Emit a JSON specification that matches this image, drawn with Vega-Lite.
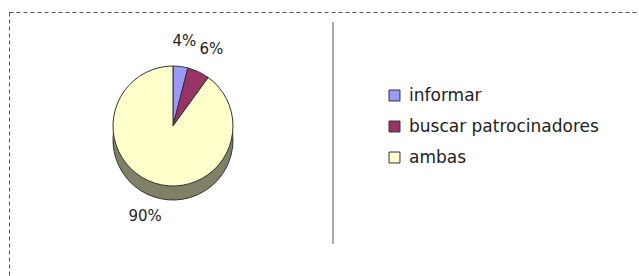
{
  "$schema": "https://vega.github.io/schema/vega-lite/v6.json",
  "autosize": {"type": "fit", "contains": "padding"},
  "width": 639,
  "height": 276,
  "padding": {"left": 9, "top": 12, "right": -2, "bottom": -2},
  "background": "white",
  "config": {
    "view": {"stroke": "#555555", "strokeWidth": 1, "strokeDash": [4, 3]},
    "font": "DejaVu Sans"
  },
  "data": {
    "values": [
      {"category": "informar", "value": 4, "order": 1, "label": "4%"},
      {"category": "buscar patrocinadores", "value": 6, "order": 2, "label": "6%"},
      {"category": "ambas", "value": 90, "order": 3, "label": "90%"}
    ]
  },
  "layer": [
    {
      "mark": {"type": "arc", "outerRadius": 60, "yOffset": 14, "fill": "#808066", "stroke": "#333333", "strokeWidth": 1},
      "encoding": {
        "theta": {"field": "value", "type": "quantitative", "stack": true},
        "order": {"field": "order"},
        "x": {"value": 164},
        "y": {"value": 114}
      }
    },
    {
      "mark": {"type": "arc", "outerRadius": 60, "stroke": "#333333", "strokeWidth": 1},
      "encoding": {
        "theta": {"field": "value", "type": "quantitative", "stack": true},
        "order": {"field": "order"},
        "x": {"value": 164},
        "y": {"value": 114},
        "color": {
          "field": "category",
          "type": "nominal",
          "sort": ["informar", "buscar patrocinadores", "ambas"],
          "scale": {"domain": ["informar", "buscar patrocinadores", "ambas"], "range": ["#9999FF", "#993366", "#FFFFCC"]},
          "legend": {
            "title": null,
            "orient": "none",
            "legendX": 377,
            "legendY": 75,
            "symbolType": "square",
            "symbolSize": 120,
            "symbolStrokeColor": "#333333",
            "symbolStrokeWidth": 1,
            "labelFontSize": 17,
            "labelColor": "#222222",
            "labelFont": "DejaVu Sans",
            "labelLimit": 400,
            "rowPadding": 13,
            "labelOffset": 6
          }
        }
      }
    },
    {
      "mark": {"type": "text", "radius": 90, "yOffset": 4, "fontSize": 15, "color": "#222222", "font": "DejaVu Sans"},
      "encoding": {
        "theta": {"field": "value", "type": "quantitative", "stack": true},
        "order": {"field": "order"},
        "x": {"value": 164},
        "y": {"value": 114},
        "text": {"field": "label"}
      }
    },
    {
      "data": {"values": [{"sep": 1}]},
      "mark": {"type": "rule", "color": "#555555", "strokeWidth": 1},
      "encoding": {
        "x": {"value": 324},
        "y": {"value": 10},
        "y2": {"value": 232}
      }
    }
  ]
}
